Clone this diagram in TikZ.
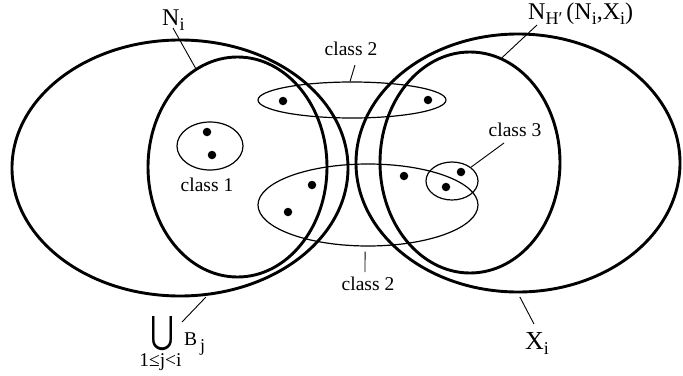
\documentclass[tikz,border=0pt]{standalone}
\usepackage{fontspec}
\setmainfont{Liberation Serif}
\newfontfamily\symfont{DejaVu Sans}
\usetikzlibrary{shapes.geometric}
\newcommand{\bigtxt}{\fontsize{24}{24}\selectfont}
\newcommand{\subtxt}[1]{\raisebox{-5pt}{\fontsize{18}{18}\selectfont #1}}
\begin{document}
\begin{tikzpicture}[x=1pt,y=-1pt,
 bigset/.style={draw, ellipse, line width=2.9pt, inner sep=0pt},
 cls/.style={draw, ellipse, line width=1.2pt, inner sep=0pt},
 pt/.style={circle, fill, inner sep=0pt, minimum size=8.5pt},
 lead/.style={line width=0.9pt},
 lbl/.style={inner sep=0pt, font=\fontsize{19.5}{19.5}\selectfont},
 biglbl/.style={inner sep=0pt, font=\bigtxt},
 ]
\useasboundingbox (0,0) rectangle (683,375);
% big sets
\node[bigset, minimum width=336pt, minimum height=256pt] (U) at (180,168) {};
\node[bigset, minimum width=179pt, minimum height=220pt] (Ni) at (237.5,167) {};
\node[bigset, minimum width=324pt, minimum height=258pt] (X) at (518,163) {};
\node[bigset, minimum width=180pt, minimum height=221pt] (NH) at (470,162.5) {};
% classes
\node[cls, minimum width=66pt, minimum height=48pt] (c1) at (210,146) {};
\node[cls, minimum width=188pt, minimum height=36pt] (c2a) at (352,100) {};
\node[cls, minimum width=220pt, minimum height=82pt] (c2b) at (368,205) {};
\node[cls, minimum width=52pt, minimum height=38pt] (c3) at (452,181) {};
% points
\node[pt] (p1) at (207,132) {};
\node[pt] (p2) at (212,155) {};
\node[pt] (p3) at (283,101) {};
\node[pt] (p4) at (428,100) {};
\node[pt] (p5) at (312,185) {};
\node[pt] (p6) at (288,212) {};
\node[pt] (p7) at (404,176) {};
\node[pt] (p8) at (446,187) {};
\node[pt] (p9) at (461,172) {};
% labels
\node[biglbl, anchor=base west] (tNi) at (162,25) {N\subtxt{i}};
\node[biglbl, anchor=base west] (tNH) at (528,19) {N\subtxt{H\char"2032}\,(N\subtxt{i},X\subtxt{i})};
\node[biglbl, anchor=base west] (tX) at (525,349) {\fontsize{26}{26}\selectfont X\subtxt{i}};
\node[lbl, anchor=base] (tc2a) at (351,55) {class 2};
\node[lbl, anchor=base] (tc1) at (207,191) {class 1};
\node[lbl, anchor=base] (tc3) at (515,136) {class 3};
\node[lbl, anchor=base] (tc2b) at (368,290) {class 2};
\node[inner sep=0pt] (tcup) at (162.5,333.5) {\resizebox{24pt}{27pt}{\symfont ⋃}};
\node[lbl, anchor=base] (tsub) at (160.5,366) {1≤j<i};
\node[lbl, anchor=base west] (tB) at (184,345) {B\raisebox{-6pt}{\fontsize{18}{18}\selectfont\,j}};
% leaders
\coordinate (aNi) at (173,28);
\coordinate (aNH) at (537,25);
\coordinate (ac2a) at (355,65);
\coordinate (ac3) at (504,143);
\coordinate (ac2b) at (365,272);
\coordinate (aX) at (534,324);
\coordinate (aU) at (182,322);
\draw[lead] (aNi) -- (Ni.113);
\draw[lead] (aNH) -- (NH.73);
\draw[lead] (ac2a) -- (c2a.96);
\draw[lead] (ac3) -- (c3.36);
\draw[lead, shorten >=5pt] (ac2b) -- (c2b.-94);
\draw[lead, shorten >=4pt] (aX) -- (X.south);
\draw[lead, shorten >=2pt] (aU) -- (U.-78);
\end{tikzpicture}
\end{document}
